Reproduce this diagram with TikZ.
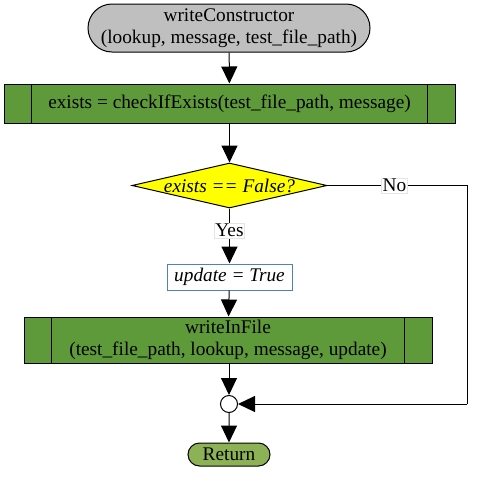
\documentclass[tikz,border=0pt]{standalone}
\usepackage{fontspec}
\setmainfont{Liberation Serif}
\usetikzlibrary{arrows.meta,shapes.geometric,shapes.misc}
\definecolor{termgray}{HTML}{BFBFBF}
\definecolor{procgreen}{HTML}{5E9A3A}
\definecolor{retgreen}{HTML}{8DB255}
\definecolor{diayellow}{HTML}{FFFF00}
\definecolor{boxblue}{HTML}{4F81BD}
\begin{document}
\begin{tikzpicture}[x=1pt,y=-1pt,
  font=\fontsize{19.3}{21.5}\selectfont,
  every node/.style={inner sep=0pt},
  line/.style={draw=black, line width=1pt},
  arr/.style={line, -{Triangle[width=16pt,length=17pt]}},
  term/.style={draw=black, line width=1pt, rounded rectangle, align=center},
  proc/.style={draw=black, line width=1pt, fill=procgreen, align=center},
  lbl/.style={fill=white, draw=black!10, line width=0.4pt, inner sep=1pt}
]
\useasboundingbox (0,0) rectangle (491,483);
% top terminator
\node[term, fill=termgray, minimum width=282pt, minimum height=48pt] (start) at (229,28)
  {writeConstructor\\(lookup, message, test\_file\_path)};
% process 1
\node[proc, minimum width=451pt, minimum height=39pt] (p1) at (229.5,103.5)
  {exists = checkIfExists(test\_file\_path, message)};
\draw[line] ([xshift=28pt]p1.north west) -- ([xshift=28pt]p1.south west);
\draw[line] ([xshift=-28pt]p1.north east) -- ([xshift=-28pt]p1.south east);
% decision
\node[diamond, draw=black, line width=1pt, fill=diayellow, minimum width=195pt, minimum height=45pt] (dec) at (229.5,185.5) {};
\node (dectext) at (dec.center) {\itshape exists == False?};
% update box
\node[draw=boxblue, line width=1pt, fill=white, minimum width=125pt, minimum height=26pt] (upd) at (229.5,277)
  {\itshape update = True};
% process 2
\node[proc, minimum width=408pt, minimum height=46pt] (p2) at (228,340)
  {writeInFile\\(test\_file\_path, lookup, message, update)};
\draw[line] ([xshift=28pt]p2.north west) -- ([xshift=28pt]p2.south west);
\draw[line] ([xshift=-28pt]p2.north east) -- ([xshift=-28pt]p2.south east);
% merge circle
\node[circle, draw=black, line width=1pt, fill=white, minimum size=17pt] (m) at (229,404) {};
% return
\node[term, fill=retgreen, minimum width=82pt, minimum height=23pt] (ret) at (229,454.5) {Return};
% right corner coordinates
\coordinate (c1) at (467,185.5);
\coordinate (c2) at (467,404);
% connectors
\draw[arr] (start) -- (p1);
\draw[arr] (p1) -- (dec);
\draw[arr] (dec) -- node[lbl, pos=0.4] (yes) {Yes} (upd);
\draw[arr] (upd) -- (p2);
\draw[arr] (p2.south -| m) -- (m);
\draw[arr] (m) -- (ret);
\draw[line] (dec.east) -- node[lbl, pos=0.48] (no) {No} (c1) -- (c2);
\draw[arr] (c2) -- (m);
\end{tikzpicture}
\end{document}
